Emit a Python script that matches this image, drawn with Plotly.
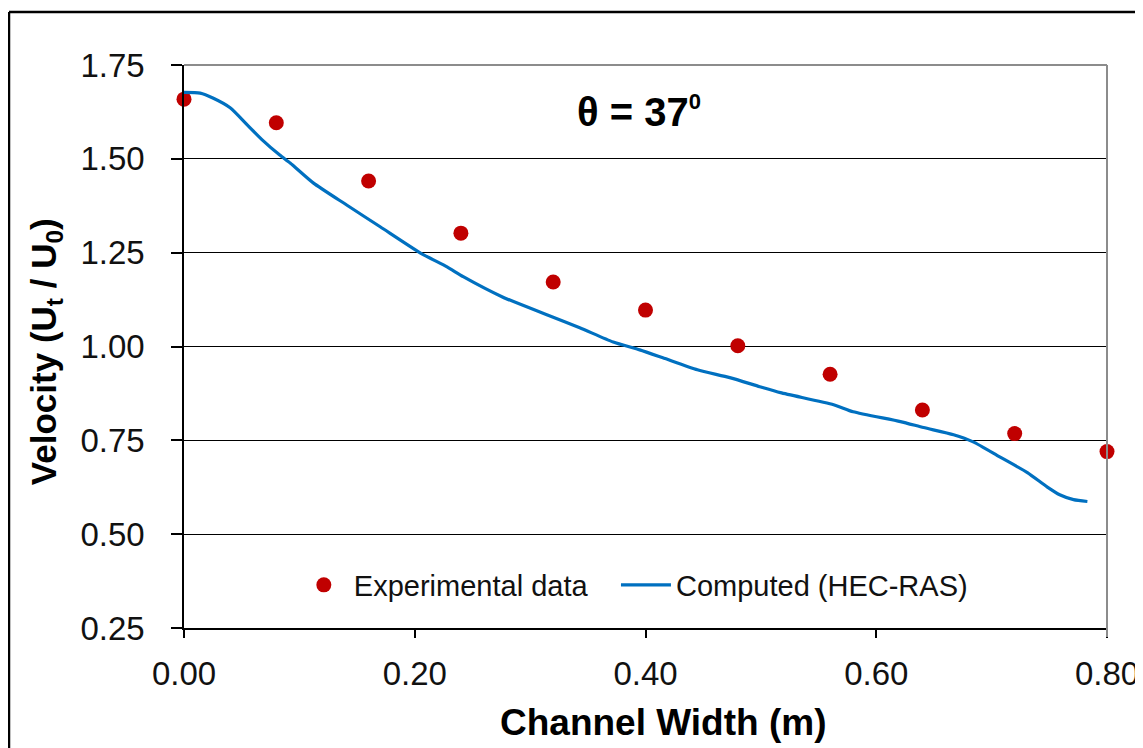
import plotly.graph_objects as go

# Experimental data
exp_x = [0.00, 0.08, 0.16, 0.24, 0.32, 0.40, 0.48, 0.56, 0.64, 0.72, 0.80]
exp_y = [1.659, 1.596, 1.441, 1.302, 1.172, 1.097, 1.002, 0.926, 0.831, 0.768, 0.720]

# Computed (HEC-RAS)
comp_x = [0.000, 0.014, 0.025, 0.040, 0.055, 0.068, 0.083, 0.092, 0.112, 0.141,
          0.170, 0.205, 0.228, 0.242, 0.276, 0.315, 0.343, 0.372, 0.395, 0.415,
          0.445, 0.473, 0.499, 0.517, 0.563, 0.580, 0.621, 0.641, 0.667, 0.684,
          0.707, 0.731, 0.748, 0.759, 0.771, 0.783]
comp_y = [1.677, 1.675, 1.662, 1.636, 1.590, 1.550, 1.510, 1.489, 1.436, 1.377,
          1.319, 1.249, 1.212, 1.186, 1.132, 1.084, 1.050, 1.012, 0.991, 0.970,
          0.938, 0.917, 0.893, 0.877, 0.845, 0.826, 0.800, 0.784, 0.765, 0.746,
          0.706, 0.664, 0.626, 0.605, 0.592, 0.587]

x_ticks = [0.0, 0.2, 0.4, 0.6, 0.8]
x_ticklabels = ["0.00", "0.20", "0.40", "0.60", "0.80"]
y_ticks = [0.25, 0.50, 0.75, 1.00, 1.25, 1.50, 1.75]
y_ticklabels = ["0.25", "0.50", "0.75", "1.00", "1.25", "1.50", "1.75"]

FONT = "Liberation Sans, Arial, sans-serif"

fig = go.Figure()
fig.add_trace(go.Scatter(
    x=exp_x, y=exp_y, mode="markers", name="Experimental data",
    marker=dict(color="#C00000", size=15, line=dict(width=0)),
    cliponaxis=False, legend="legend",
))
fig.add_trace(go.Scatter(
    x=comp_x, y=comp_y, mode="lines", name="Computed (HEC-RAS)",
    line=dict(color="#0070C0", width=3.2, shape="spline", smoothing=0.6),
    legend="legend2",
))

legend_common = dict(
    orientation="h", yanchor="middle", xanchor="left", y=0.0764,
    bgcolor="rgba(0,0,0,0)", font=dict(size=29, family=FONT, color="#111"),
    itemwidth=50, tracegroupgap=0,
)

fig.update_layout(
    width=1135, height=740,
    margin=dict(l=176, r=36, t=57, b=120, autoexpand=False),
    paper_bgcolor="white", plot_bgcolor="white",
    font=dict(family=FONT, color="black"),
    showlegend=True,
    legend=dict(x=0.119, **legend_common),
    legend2=dict(x=0.468, **legend_common),
    xaxis=dict(
        range=[0, 0.8], tickmode="array", tickvals=x_ticks, ticktext=x_ticklabels,
        showgrid=False, zeroline=False, showline=True, linecolor="black", linewidth=1.5,
        ticks="outside", ticklen=8, tickwidth=1.5, tickcolor="black",
        tickfont=dict(size=33, family=FONT, color="#111"),
        ticklabelstandoff=8, automargin=False, ticklabeloverflow="allow",
    ),
    yaxis=dict(
        range=[0.25, 1.75], tickmode="array", tickvals=y_ticks, ticktext=y_ticklabels,
        showgrid=True, gridcolor="black", gridwidth=1.2,
        zeroline=False, showline=True, linecolor="black", linewidth=1.5,
        ticks="outside", ticklen=11, tickwidth=1.5, tickcolor="black",
        tickfont=dict(size=33, family=FONT, color="#111"),
        ticklabelstandoff=20, automargin=False, ticklabeloverflow="allow",
    ),
)

# gray top and right plot border
fig.add_shape(type="line", xref="paper", yref="paper", x0=0, x1=1, y0=1, y1=1,
              line=dict(color="#8c8c8c", width=2), layer="above")
fig.add_shape(type="line", xref="paper", yref="paper", x0=1, x1=1, y0=-0.016, y1=1,
              line=dict(color="#8c8c8c", width=2), layer="above")

# outer frame (top and left edges)
fig.add_shape(type="line", xref="paper", yref="paper", x0=-0.1896, x1=1.05, y0=1.0941, y1=1.0941,
              line=dict(color="black", width=2.5), layer="above")
fig.add_shape(type="line", xref="paper", yref="paper", x0=-0.1896, x1=-0.1896, y0=-0.25, y1=1.0941,
              line=dict(color="black", width=2.5), layer="above")

# axis titles
fig.add_annotation(text="<b>Channel Width (m)</b>", xref="paper", yref="paper",
                   x=0.519, y=-0.167, xanchor="center", yanchor="middle", showarrow=False,
                   font=dict(size=37, family=FONT, color="black"))
fig.add_annotation(text="<b>Velocity (U<sub>t</sub> / U<sub>0</sub>)</b>", xref="paper", yref="paper",
                   x=-0.1495, y=0.49, xanchor="center", yanchor="middle", showarrow=False,
                   textangle=-90, font=dict(size=35, family=FONT, color="black"))

# angle annotation
fig.add_annotation(text="<b>θ = 37<sup><span style='font-size:22px'>0</span></sup></b>",
                   xref="paper", yref="paper",
                   x=0.4925, y=0.918, xanchor="center", yanchor="middle", showarrow=False,
                   font=dict(size=40, family=FONT, color="black"))

fig.write_html("out.html")
